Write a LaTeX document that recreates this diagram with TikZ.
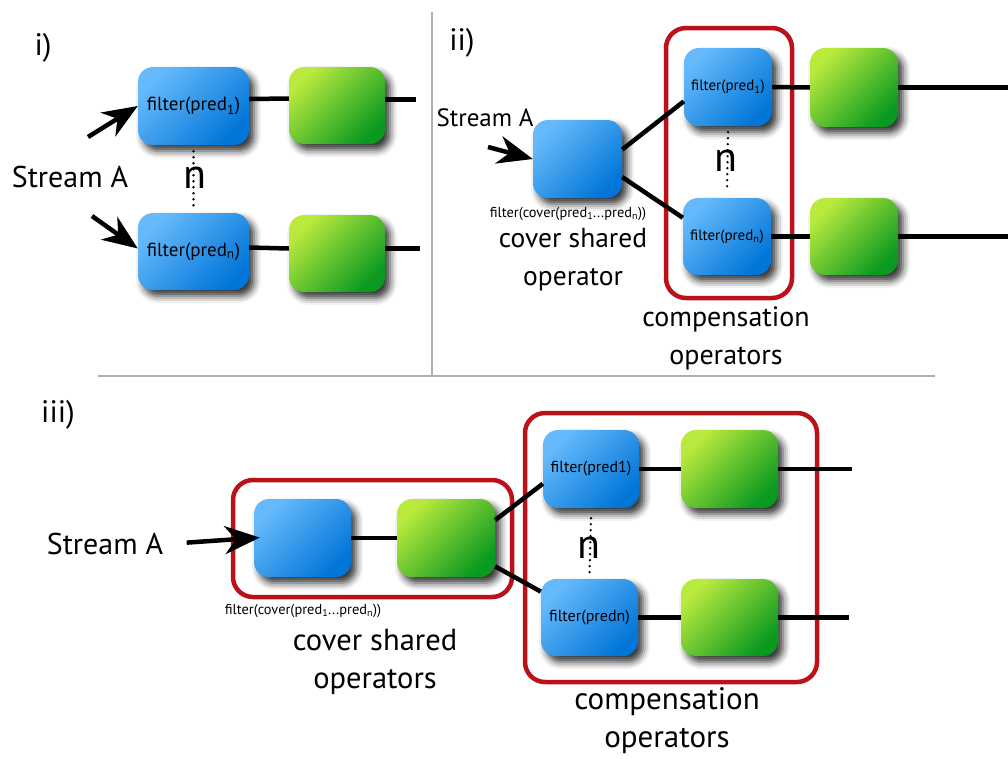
\documentclass[tikz,border=0pt]{standalone}
\usepackage{fontspec}
\setmainfont{PT Sans}
\usetikzlibrary{arrows.meta,shadows.blur}

\definecolor{blueL}{HTML}{66BAFB}
\definecolor{blueD}{HTML}{0276D8}
\definecolor{greenL}{HTML}{BAEA3E}
\definecolor{greenD}{HTML}{0A9A20}
\definecolor{redc}{HTML}{BA1218}
\definecolor{sepc}{HTML}{AFAFAF}

\newcommand{\fsz}[1]{\fontsize{#1}{#1}\selectfont}

\tikzset{
  op/.style={rounded corners=15pt, inner sep=0pt, align=center,
    blur shadow={shadow xshift=5pt, shadow yshift=-6pt,
                 shadow blur radius=7pt, shadow opacity=80}},
  blueop/.style={op, top color=blueL, bottom color=blueD, shading angle=45},
  greenop/.style={op, top color=greenL, bottom color=greenD, shading angle=45},
  wire/.style={line width=4.5pt},
  feed/.style={line width=4.5pt, -{Stealth[length=35pt,width=28pt,inset=11pt]}},
  redbox/.style={draw=redc, line width=4.5pt, rounded corners=20pt, inner sep=0pt},
  dots/.style={line width=2.6pt, dash pattern=on 0pt off 6pt, line cap=round},
  big/.style={font=\fontsize{#1}{38}\selectfont, align=center},
  big/.default=29,
  plabel/.style={font=\fsz{31}},
  nlabel/.style={font=\fsz{42}},
  small/.style={font=\fsz{14.4}},
  sep/.style={draw=sepc, line width=1.5pt},
}

\begin{document}
\begin{tikzpicture}[x=1pt, y=-1pt]
\useasboundingbox (0,0) rectangle (1008,758);

% separators between the three panels
\draw[sep] (98,376) -- (935,376);
\draw[sep] (432,12) -- (432,376);

% ---------------- panel i ----------------
\node[plabel] (li) at (43,48) {i)};
\node[big=30] (sa1) at (70,177) {Stream A};
\node[blueop, minimum width=111pt, minimum height=78pt, font=\fsz{19}] (a1) at (193.5,106) {filter(pred\textsubscript{1})};
\node[greenop, minimum width=96pt, minimum height=77pt] (ag1) at (337,105.5) {};
\node[blueop, minimum width=111pt, minimum height=77pt, font=\fsz{19}] (an) at (193.5,251.5) {filter(pred\textsubscript{n})};
\node[greenop, minimum width=96pt, minimum height=77pt] (agn) at (337,253.5) {};
\coordinate (ta1) at (88,137);
\coordinate (tan) at (92,216);
\path ([yshift=6pt]ag1.east) ++(31,0) coordinate (oa1);
\path ([yshift=5pt]agn.east) ++(35,0) coordinate (oan);
\draw[feed] (ta1) -- (a1.west);
\draw[feed] (tan) -- ([yshift=3pt]an.west);
\draw[wire] ([yshift=7pt]a1.east) -- ([yshift=7pt]ag1.west);
\draw[wire] ([yshift=6pt]ag1.east) -- (oa1);
\draw[wire] ([yshift=4pt]an.east) -- ([yshift=5pt]agn.west);
\draw[wire] ([yshift=5pt]agn.east) -- (oan);
\draw[dots] ([yshift=-6pt]a1.south) -- ([yshift=6pt]an.north);
\node[nlabel] (na) at (195,178) {n};

% ---------------- panel ii ----------------
\node[plabel] (lii) at (462,43) {ii)};
\node[big=25] (sa2) at (485,118) {Stream A};
\node[redbox, minimum width=126pt, minimum height=270pt] (rb) at (729,163) {};
\node[blueop, minimum width=89pt, minimum height=78pt] (cov) at (577.5,159) {};
\node[small] (covt) at (568,214) {filter(cover(pred\textsubscript{1}...pred\textsubscript{n}))};
\node[big=27.5] (covl) at (573,260) {cover shared\\operator};
\node[blueop, minimum width=88pt, minimum height=78pt, font=\fsz{15}] (b1) at (728,87) {filter(pred\textsubscript{1})};
\node[blueop, minimum width=88pt, minimum height=77pt, font=\fsz{15}] (bn) at (727,236.5) {filter(pred\textsubscript{n})};
\node[greenop, minimum width=88pt, minimum height=79pt] (bg1) at (854,87.5) {};
\node[greenop, minimum width=88pt, minimum height=77pt] (bgn) at (854,236.5) {};
\node[big=28] (compl) at (726,338) {compensation\\operators};
\coordinate (tb) at (488,147);
\path (bg1.east) ++(120,0) coordinate (ob1);
\path (bgn.east) ++(120,0) coordinate (obn);
\draw[feed] (tb) -- (cov.west);
\draw[wire] (cov.12) -- (b1.198);
\draw[wire] (cov.-22) -- (bn.157);
\draw[wire] (b1.east) -- (bg1.west);
\draw[wire] (bg1.east) -- (ob1);
\draw[wire] (bn.east) -- (bgn.west);
\draw[wire] (bgn.east) -- (obn);
\draw[dots] ([yshift=-6pt]b1.south) -- ([yshift=6pt]bn.north);
\node[nlabel] (nb) at (726,161) {n};

% ---------------- panel iii ----------------
\node[plabel] (liii) at (58,415) {iii)};
\node[big=30] (sa3) at (105,544) {Stream A};
\node[redbox, minimum width=279pt, minimum height=117pt] (rc1) at (372.5,538.5) {};
\node[redbox, minimum width=292pt, minimum height=269pt] (rc2) at (671,547.5) {};
\node[blueop, minimum width=97pt, minimum height=78pt] (cb) at (302.5,538) {};
\node[greenop, minimum width=98pt, minimum height=78pt] (cg) at (446,538) {};
\node[small] (cbt) at (303,611) {filter(cover(pred\textsubscript{1}...pred\textsubscript{n}))};
\node[big=30.5] (cbl) at (375,662) {cover shared\\operators};
\node[blueop, minimum width=96pt, minimum height=78pt, font=\fsz{16}] (c1) at (591,469) {filter(pred1)};
\node[blueop, minimum width=97pt, minimum height=77pt, font=\fsz{16}] (cn) at (589.5,617.5) {filter(predn)};
\node[greenop, minimum width=97pt, minimum height=78pt] (cg1) at (729.5,469) {};
\node[greenop, minimum width=97pt, minimum height=77pt] (cgn) at (729.5,617.5) {};
\node[big=31] (ccl) at (667,721) {compensation\\operators};
\path (cg1.east) ++(74,0) coordinate (oc1);
\path (cgn.east) ++(71,0) coordinate (ocn);
\draw[feed, shorten <=20pt, shorten >=-6pt] (sa3.east) -- (cb.west);
\draw[wire] (cb.east) -- (cg.west);
\draw[wire] (cg.20) -- (c1.197);
\draw[wire] (cg.-30) -- (cn.152);
\draw[wire] (c1.east) -- (cg1.west);
\draw[wire] (cg1.east) -- (oc1);
\draw[wire] (cn.east) -- (cgn.west);
\draw[wire] (cgn.east) -- (ocn);
\draw[dots] ([yshift=-10pt]c1.south) -- ([yshift=4pt]cn.north);
\node[nlabel] (nc) at (589,548) {n};
\end{tikzpicture}
\end{document}
